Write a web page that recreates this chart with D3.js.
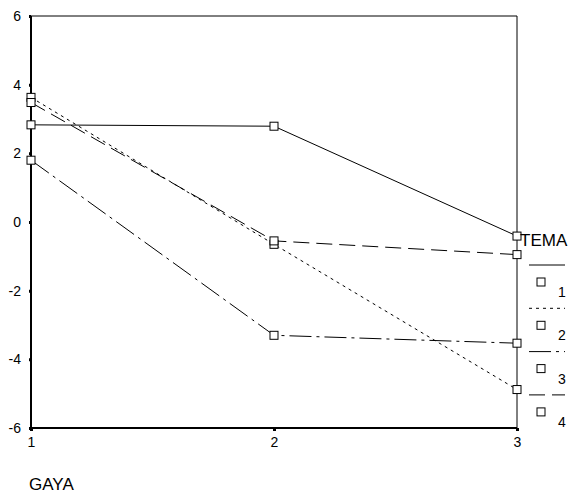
<!DOCTYPE html>
<html>
<head>
<meta charset="utf-8">
<script src="https://cdn.jsdelivr.net/npm/d3@7"></script>
<style>
  body { margin: 0; background: #fff; }
  text { font-family: Arial, "Liberation Sans", sans-serif; fill: #000; }
</style>
</head>
<body>
<svg id="canvas" width="574" height="496"></svg>
<script>
const width = 574;
const height = 496;

// GAYA on x, TEMA as series
const gaya = [1, 2, 3];
const temaNames = ["1", "2", "3", "4"];
const tema1 = [2.83, 2.79, -0.41];
const tema2 = [3.63, -0.65, -4.88];
const tema3 = [1.80, -3.30, -3.53];
const tema4 = [3.48, -0.55, -0.95];
const yTicks = [-6, -4, -2, 0, 2, 4, 6];

const allSeries = [tema1, tema2, tema3, tema4];
const dashes = ["none", "3,4", "22,5,3,5", "16,7"];

const svg = d3.select("#canvas");

const x = d3.scaleLinear().domain([1, 3]).range([31, 517]);
const y = d3.scaleLinear().domain([-6, 6]).range([428, 16]);

// frame
svg.append("line").attr("x1", x(1)).attr("x2", x(3)).attr("y1", y(6)).attr("y2", y(6))
    .attr("stroke", "#000").attr("stroke-width", 1);
svg.append("line").attr("x1", x(3)).attr("x2", x(3)).attr("y1", y(6)).attr("y2", y(-6))
    .attr("stroke", "#000").attr("stroke-width", 1);

// y axis (plain hyphen minus like the original)
const yAxis = svg.append("g")
    .attr("transform", `translate(${x(1)},0)`)
    .call(d3.axisLeft(y).tickValues(yTicks).tickSize(2).tickPadding(8).tickFormat(d => String(d)));
yAxis.select(".domain").remove();
yAxis.selectAll(".tick line").attr("stroke-width", 3);
yAxis.selectAll(".tick text").attr("font-size", 14)
    .style("font-family", "Arial, 'Liberation Sans', sans-serif");

// x axis
const xAxis = svg.append("g")
    .attr("transform", `translate(0,${y(-6)})`)
    .call(d3.axisBottom(x).tickValues(gaya).tickSize(3).tickPadding(6).tickFormat(d => String(d)));
xAxis.select(".domain").remove();
xAxis.selectAll(".tick line").attr("stroke-width", 3);
xAxis.selectAll(".tick text").attr("font-size", 14)
    .style("font-family", "Arial, 'Liberation Sans', sans-serif");

svg.append("line").attr("x1", x(1)).attr("x2", x(1)).attr("y1", y(6)).attr("y2", y(-6) + 1)
    .attr("stroke", "#000").attr("stroke-width", 2);
svg.append("line").attr("x1", x(1) - 1).attr("x2", x(3)).attr("y1", y(-6)).attr("y2", y(-6))
    .attr("stroke", "#000").attr("stroke-width", 2);

// lines
const line = d3.line()
    .x((d, i) => x(gaya[i]))
    .y(d => y(d));

svg.selectAll("path.series")
    .data(allSeries)
    .enter()
    .append("path")
    .attr("class", "series")
    .attr("d", line)
    .attr("fill", "none")
    .attr("stroke", "#000")
    .attr("stroke-width", 1)
    .attr("stroke-dasharray", (d, i) => dashes[i]);

// markers
allSeries.forEach(s => {
    svg.selectAll(null)
        .data(s)
        .enter()
        .append("rect")
        .attr("x", (d, i) => x(gaya[i]) - 4)
        .attr("y", d => y(d) - 4)
        .attr("width", 8)
        .attr("height", 8)
        .attr("fill", "#fff")
        .attr("stroke", "#000")
        .attr("stroke-width", 1);
});

// legend
svg.append("text").attr("x", 520).attr("y", 246).attr("font-size", 17).text("TEMA");

const leg = svg.selectAll("g.leg")
    .data(temaNames)
    .enter()
    .append("g")
    .attr("class", "leg")
    .attr("transform", (d, i) => `translate(0,${265 + i * 43.3})`);

leg.append("line")
    .attr("x1", 529).attr("x2", 565)
    .attr("y1", 0).attr("y2", 0)
    .attr("stroke", "#000")
    .attr("stroke-dasharray", (d, i) => dashes[i]);

leg.append("rect")
    .attr("x", 537).attr("y", 13)
    .attr("width", 8).attr("height", 8)
    .attr("fill", "#fff").attr("stroke", "#000");

leg.append("text")
    .attr("x", 558).attr("y", 32)
    .attr("font-size", 14)
    .text(d => d);

svg.append("text").attr("x", 29).attr("y", 490).attr("font-size", 17).text("GAYA");
</script>
</body>
</html>
